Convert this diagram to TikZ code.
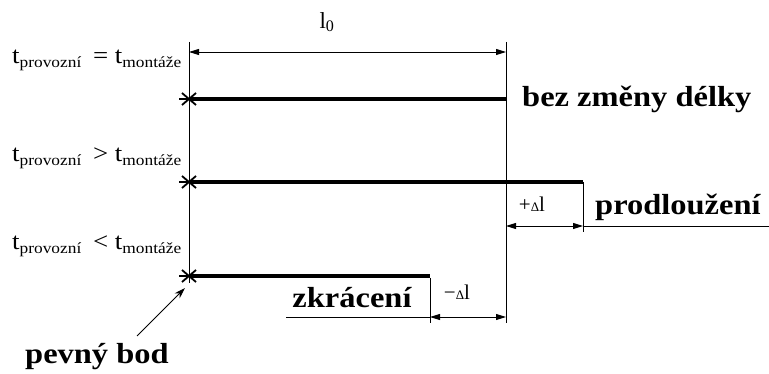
\documentclass[tikz,border=0pt]{standalone}
\usepackage{fontspec}
\setmainfont{Liberation Serif}
\usetikzlibrary{arrows.meta, positioning}

% fixed point mark on the left end of a rod
\newcommand{\fixmark}[1]{%
  \draw[line width=1.8pt, shift={(#1)}] (-7,-6) -- (7,6) (-7,6) -- (7,-6) (-10,0) -- (0,0);}
% wide lettering of the labels
\newcommand{\wide}[1]{\scalebox{1.12}[1]{#1}}
\newcommand{\tsub}[1]{\textsubscript{\fontsize{15.5}{15.5}\selectfont #1}}

\begin{document}
\begin{tikzpicture}[
    x=1pt, y=-1pt,
    rod/.style={line width=3.8pt},
    edge/.style={line width=0.9pt},
    dim/.style={line width=0.9pt, {Triangle[length=10pt,width=6pt]}-{Triangle[length=10pt,width=6pt]}},
    bold/.style={font=\fontsize{29}{31}\selectfont\bfseries, inner sep=0pt},
    temp/.style={font=\fontsize{24}{26}\selectfont, inner sep=0pt, anchor=base east},
    delta/.style={font=\fontsize{21}{23}\selectfont, inner sep=0pt}
]
\useasboundingbox (0,0) rectangle (769,374);

% limits of the length l0
\coordinate (L0) at (189,42);  \coordinate (L1) at (189,283);
\coordinate (R0) at (506,42);  \coordinate (R1) at (506,323);
\draw[edge] (L0) -- (L1);
\draw[edge] (R0) -- (R1);

\coordinate (dl) at (189,52);  \coordinate (dr) at (506,52);
\draw[dim] (dl) -- (dr);
\node[font=\fontsize{23}{25}\selectfont, inner sep=0pt] (len) at (327,22) {l\textsubscript{0}};

% row 1
\node[temp] (t1) at (182,64) {\wide{t\tsub{provozní}\, = t\tsub{montáže}}};
\coordinate (a1) at (189,99);  \coordinate (b1) at (506,99);
\draw[rod] (a1) -- (b1);
\fixmark{a1}
\node[bold, anchor=base west] (same) at (522,107) {\wide{bez změny délky}};

% row 2
\node[temp] (t2) at (182,162) {\wide{t\tsub{provozní}\, > t\tsub{montáže}}};
\coordinate (a2) at (189,182); \coordinate (b2) at (583,182);
\coordinate (c2) at (583,232);
\draw[rod] (a2) -- (b2);
\draw[edge] (b2) -- (c2);
\fixmark{a2}
\coordinate (p0) at (506,226); \coordinate (p1) at (583,226); \coordinate (p2) at (769,226);
\draw[dim] (p0) -- (p1);
\draw[edge] (p1) -- (p2);
\node[delta] (plus) at (532,204) {+{\fontsize{13}{13}\selectfont Δ}l};
\node[bold, anchor=base west] (long) at (595,215) {\wide{prodloužení}};

% row 3
\node[temp] (t3) at (182,250) {\wide{t\tsub{provozní}\, < t\tsub{montáže}}};
\coordinate (a3) at (189,276); \coordinate (b3) at (430,276);
\coordinate (c3) at (430,323);
\draw[rod] (a3) -- (b3);
\draw[edge] ([yshift=-2pt]b3) -- (c3);
\fixmark{a3}
\coordinate (m0) at (430,317); \coordinate (m1) at (506,317); \coordinate (m2) at (286,317);
\draw[dim] (m0) -- (m1);
\draw[edge] (m2) -- (m0);
\node[delta] (minus) at (457,292) {−{\fontsize{13}{13}\selectfont Δ}l};
\node[bold, anchor=base] (short) at (352,308) {\wide{zkrácení}};

% fixed point
\node[bold, anchor=base west] (fix) at (25,363) {\wide{pevný bod}};
\draw[edge, -{Stealth[length=11pt,width=7pt]}] (137,336) -- (185,288);
\end{tikzpicture}
\end{document}
